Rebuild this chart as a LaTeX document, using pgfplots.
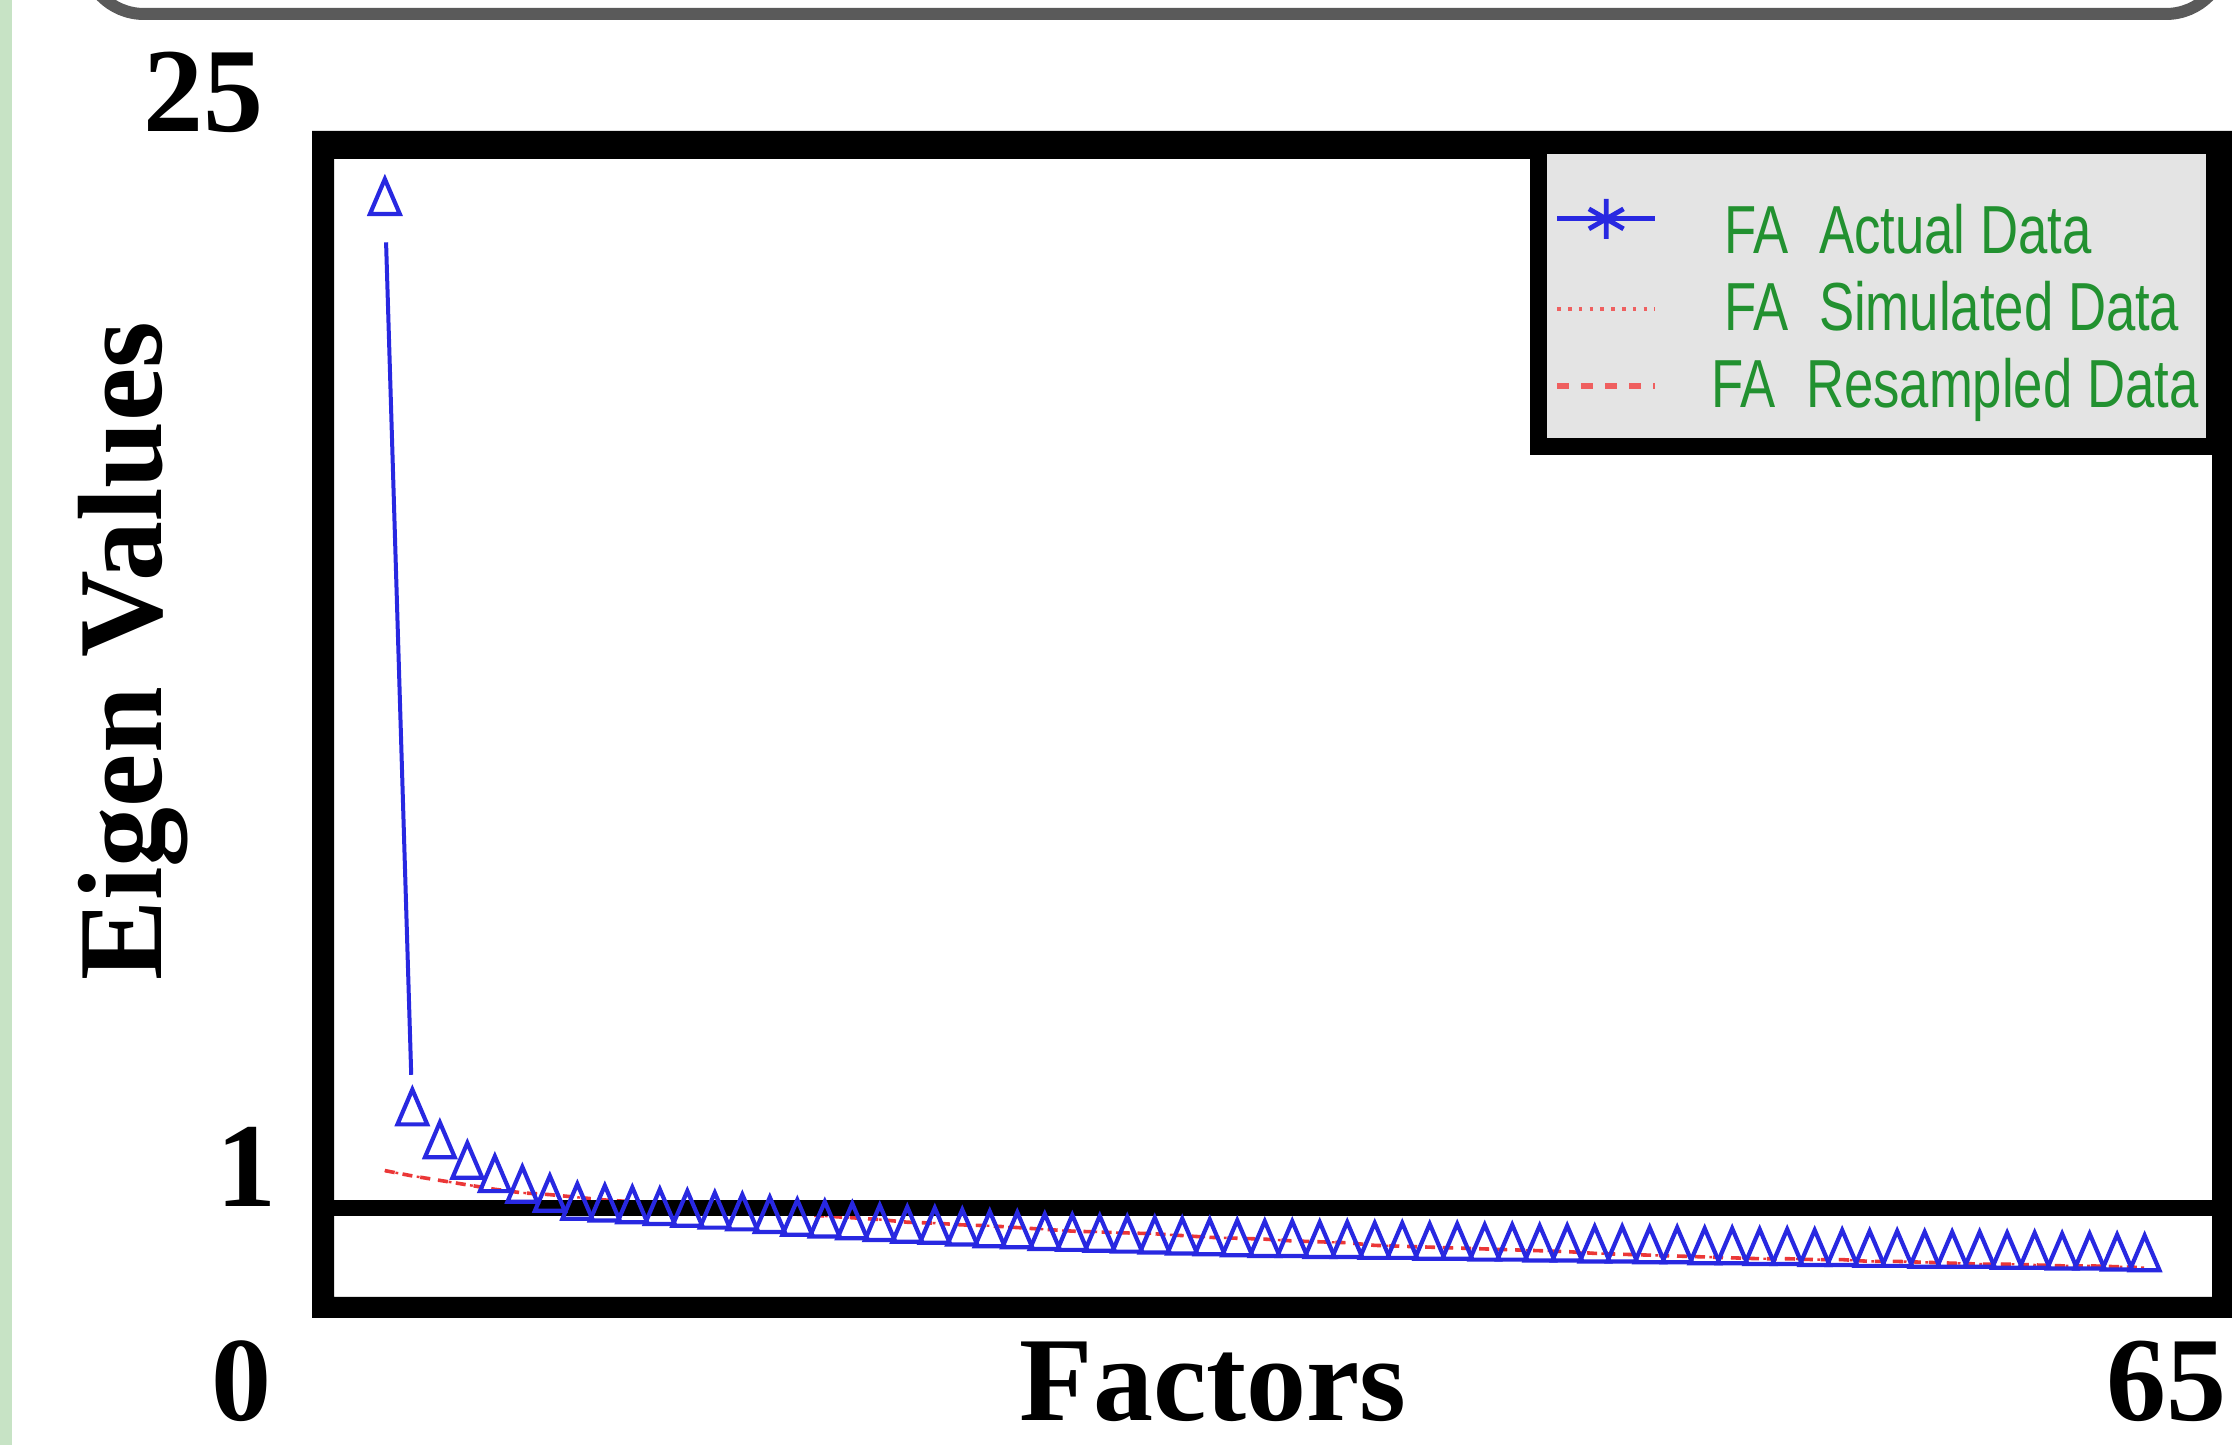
\documentclass[border=0pt]{standalone}
\usepackage{fontspec}
\setmainfont{Liberation Serif}
\newfontfamily\legfont[FakeStretch=0.775]{Liberation Sans}
\usepackage{pgfplots}
\pgfplotsset{compat=1.18}
\usepackage{pgfplotstable}
\definecolor{stripgreen}{RGB}{199,227,197}
\definecolor{boxgray}{RGB}{90,90,90}
\definecolor{legendgray}{RGB}{228,228,228}
\definecolor{legendgreen}{RGB}{34,145,48}
\definecolor{myblue}{RGB}{40,40,225}
\definecolor{myred}{RGB}{235,55,55}
\pgfplotstableread{
f actual resampled
1 12.30 1.42
2 2.07 1.36
3 1.70 1.31
4 1.47 1.26
5 1.32 1.21
6 1.20 1.17
7 1.10 1.15
8 1.01 1.12
9 0.99 1.09
10 0.97 1.07
11 0.95 1.04
12 0.93 1.02
13 0.91 1.00
14 0.89 0.98
15 0.86 0.96
16 0.83 0.93
17 0.81 0.91
18 0.79 0.89
19 0.77 0.87
20 0.75 0.84
21 0.74 0.83
22 0.72 0.81
23 0.70 0.80
24 0.69 0.78
25 0.67 0.76
26 0.66 0.74
27 0.65 0.73
28 0.64 0.72
29 0.63 0.71
30 0.62 0.69
31 0.61 0.67
32 0.60 0.66
33 0.59 0.65
34 0.59 0.63
35 0.58 0.62
36 0.58 0.61
37 0.57 0.58
38 0.57 0.57
39 0.56 0.56
40 0.56 0.55
41 0.55 0.54
42 0.55 0.53
43 0.54 0.52
44 0.54 0.51
45 0.53 0.49
46 0.53 0.48
47 0.52 0.47
48 0.52 0.46
49 0.51 0.45
50 0.51 0.44
51 0.50 0.43
52 0.50 0.43
53 0.49 0.42
54 0.49 0.42
55 0.48 0.40
56 0.48 0.40
57 0.47 0.39
58 0.47 0.38
59 0.47 0.37
60 0.46 0.37
61 0.46 0.36
62 0.45 0.35
63 0.45 0.35
64 0.44 0.34
65 0.43 0.33
}\eigtable
\newcommand{\lstrA}{\rule[-5.75pt]{0pt}{24.5pt}}
\newcommand{\lstrB}{\rule[-5.75pt]{0pt}{17.75pt}}
\newcommand{\lstrC}{\rule[-4.75pt]{0pt}{16.75pt}}
\begin{document}
\begin{tikzpicture}
\path[use as bounding box] (0pt,0pt) rectangle (558pt,361.25pt);
\clip (0pt,0pt) rectangle (558pt,361.25pt);
\fill[white] (0pt,0pt) rectangle (558pt,361.25pt);
\fill[stripgreen] (0pt,0pt) rectangle (3pt,361.25pt);
\draw[boxgray, line width=3pt, rounded corners=15pt] (21pt,357.75pt) rectangle (556.5pt,450pt);
\fill[black, even odd rule] (78pt,328.5pt) rectangle (575pt,31.75pt) (83.5pt,321.5pt) rectangle (553pt,37pt);
\begin{axis}[
  at={(83.5pt,37pt)}, anchor=south west,
  width=469.5pt, height=284.5pt, scale only axis,
  xmin=-0.85, xmax=67.45, ymin=0, ymax=12.787,
  hide axis,
  legend image code/.code={\draw[mark repeat=2,mark phase=2,#1] plot coordinates {(0pt,0pt) (12.25pt,0pt) (24.5pt,0pt)};},
  legend cell align=left,
  legend style={at={(0.6416,0.7474)}, anchor=south west, fill=legendgray, draw=black,
    line width=4.25pt, inner xsep=3.875pt, inner ysep=8.125pt, outer sep=0pt,
    /tikz/row sep=5.5pt, /tikz/column sep=16.5pt,
    font=\legfont\fontsize{17pt}{19pt}\selectfont, text=legendgreen,
    nodes={inner sep=0pt, outer sep=0pt}},
]
\addlegendimage{myblue, line width=1.2pt, mark=asterisk, mark size=5pt, mark options={solid}}
\addlegendimage{myred!80, line width=1.1pt, dash pattern=on 0.9pt off 1.8pt}
\addlegendimage{myred!80, line width=1.4pt, dash pattern=on 3pt off 3pt}
\addplot[myred, line width=0.6pt, dash pattern=on 0.7pt off 2pt, forget plot] table[x=f, y=resampled] \eigtable;
\addplot[myred, line width=0.9pt, dash pattern=on 2.5pt off 2pt, forget plot] table[x=f, y=resampled] \eigtable;
\addplot[myblue, line width=1.05pt, only marks, mark=triangle, mark size=4.3pt, mark options={solid, yscale=1.35}, forget plot] table[x=f, y=actual] \eigtable;
\addplot[myblue, line width=1pt, shorten <=10pt, shorten >=9.5pt, forget plot] coordinates {(1,12.30) (2,2.07)};
\addplot[black, line width=4pt, forget plot] coordinates {(-0.85,1) (67.45,1)};
\legend{\lstrA FA\hspace{0.45em}Actual Data, \lstrB FA\hspace{0.45em}Simulated Data, \lstrC\hspace*{-3.25pt}FA\hspace{0.45em}Resampled Data\hspace{2.5pt}}
\end{axis}
\begin{scope}[every node/.style={inner sep=0pt, outer sep=0pt, font=\fontsize{30pt}{36pt}\selectfont\bfseries}]
\node[anchor=base west] at (35.75pt,328.25pt) {25};
\node[anchor=base] at (61.5pt,59.5pt) {1};
\node[anchor=base] at (60.25pt,6pt) {0};
\node[anchor=base] at (541.5pt,6pt) {65};
\node[anchor=base] at (303.25pt,6pt) {Factors};
\node[anchor=base, rotate=90] at (40.5pt,198.5pt) {Eigen Values};
\end{scope}
\end{tikzpicture}
\end{document}
